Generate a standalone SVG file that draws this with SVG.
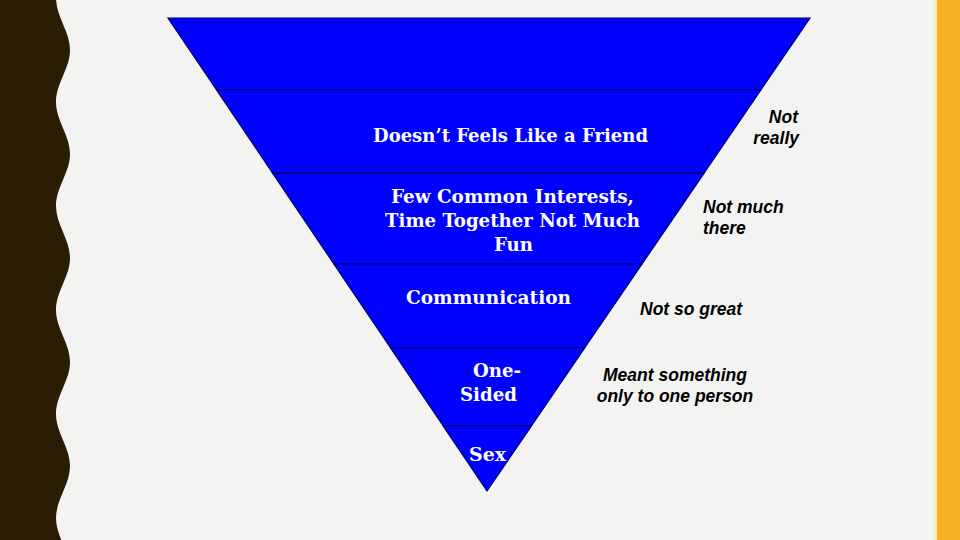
<svg xmlns="http://www.w3.org/2000/svg" width="960" height="540" viewBox="0 0 960 540">
<style>
.band{fill:#0000FF;stroke:#000066;stroke-width:1.2;stroke-linejoin:miter}
.lvl{font-family:"DejaVu Serif","Liberation Serif",serif;font-weight:bold;font-size:19px;fill:#FFFFFF;text-anchor:middle}
.note{font-family:"Liberation Sans",Arial,sans-serif;font-weight:bold;font-style:italic;font-size:17.5px;fill:#000000}
</style>
<rect x="0" y="0" width="960" height="540" fill="#F3F3F1"/>
<path d="M0,-2 L56,-2 C56,16.7 70,31.3 70,50 S56,83.3 56,102 S70,135.3 70,154 S56,187.3 56,206 S70,239.3 70,258 S56,291.3 56,310 S70,343.3 70,362 S56,395.3 56,414 S70,447.3 70,466 S56,499.3 56,518 S70,551.3 70,570 L0,570 Z" fill="#2B1D04"/>
<rect x="934" y="0" width="3" height="540" fill="#FBEBC0"/>
<rect x="937" y="0" width="23" height="540" fill="#F8B324"/>
<g id="pyramid">
<g id="level1"><polygon class="band" points="168,18 810,18 760.8,90 216.6,90"/></g>
<g id="level2"><polygon class="band" points="216.6,90 760.8,90 704.2,173 272.5,173"/>
<text class="lvl" x="510.5" y="142" textLength="275" lengthAdjust="spacingAndGlyphs">Doesn’t Feels Like a Friend</text></g>
<g id="level3"><polygon class="band" points="272.5,173 704.2,173 642,264 333.9,264"/>
<text class="lvl" x="512.5" y="203" textLength="243" lengthAdjust="spacingAndGlyphs">Few Common Interests,</text>
<text class="lvl" x="512.5" y="227" textLength="255" lengthAdjust="spacingAndGlyphs">Time Together Not Much</text>
<text class="lvl" x="513.5" y="251" textLength="39" lengthAdjust="spacingAndGlyphs">Fun</text></g>
<g id="level4"><polygon class="band" points="333.9,264 642,264 584.6,348 390.6,348"/>
<text class="lvl" x="488.5" y="304" textLength="165" lengthAdjust="spacingAndGlyphs">Communication</text></g>
<g id="level5"><polygon class="band" points="390.6,348 584.6,348 531.4,426 443.2,426"/>
<text class="lvl" x="497" y="377" textLength="48" lengthAdjust="spacingAndGlyphs">One-</text>
<text class="lvl" x="488.5" y="401" textLength="57" lengthAdjust="spacingAndGlyphs">Sided</text></g>
<g id="level6"><polygon class="band" points="443.2,426 531.4,426 487,491"/>
<text class="lvl" x="487.5" y="461" textLength="37" lengthAdjust="spacingAndGlyphs">Sex</text></g>
</g>
<g id="notes">
<text class="note" x="798" y="123" text-anchor="end">Not</text>
<text class="note" x="799" y="144" text-anchor="end">really</text>
<text class="note" x="703" y="213">Not much</text>
<text class="note" x="703" y="234">there</text>
<text class="note" x="640" y="315">Not so great</text>
<text class="note" x="675" y="381" text-anchor="middle">Meant something</text>
<text class="note" x="675" y="402" text-anchor="middle">only to one person</text>
</g>
</svg>
